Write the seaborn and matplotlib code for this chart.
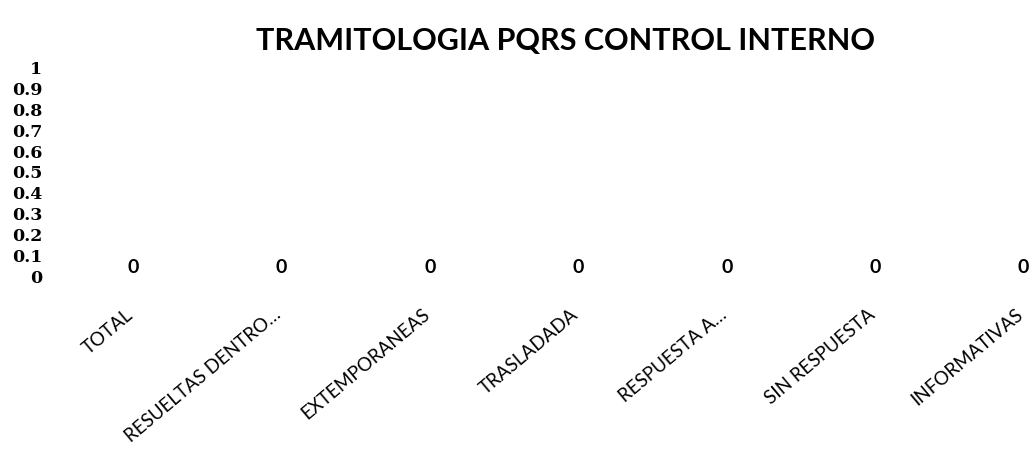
import matplotlib
matplotlib.use("Agg")
import matplotlib.pyplot as plt
import matplotlib.transforms as mtransforms
import seaborn as sns
import pandas as pd

# datos del cuadro (todos en cero)
categorias = ["TOTAL", "RESUELTAS DENTRO…", "EXTEMPORANEAS", "TRASLADADA",
              "RESPUESTA A…", "SIN RESPUESTA", "INFORMATIVAS"]
valores = [0, 0, 0, 0, 0, 0, 0]
y_ticks = [0, 0.1, 0.2, 0.3, 0.4, 0.5, 0.6, 0.7, 0.8, 0.9, 1]
titulo = "TRAMITOLOGIA PQRS CONTROL INTERNO"

df = pd.DataFrame({"categoria": categorias, "valor": valores})

sns.set_theme(style="white")
plt.rcParams['font.family'] = ['Lato', 'DejaVu Sans']
plt.rcParams['text.color'] = 'black'
plt.rcParams['xtick.color'] = 'black'
plt.rcParams['ytick.color'] = 'black'

fig = plt.figure(figsize=(10.34, 4.52), dpi=100)
ax = fig.add_axes([0.057, 0.389, 0.943, 0.461])

sns.barplot(data=df, x="categoria", y="valor", color="#4F81BD", ax=ax, width=0.6)
ax.bar_label(ax.containers[0], labels=[str(v) for v in valores], padding=0,
             fontsize=14, fontweight="bold", color="black")

ax.set_ylim(0, 1)
ax.set_xlim(-0.5, 6.07)
ax.set_yticks(y_ticks)
ax.set_yticklabels([f"{t:g}" for t in y_ticks], fontsize=12.5, fontweight="bold",
                   family=["DejaVu Serif"])
ax.tick_params(axis="y", length=0, pad=12)
ax.tick_params(axis="x", length=0, pad=26)
# desplazar un poco las etiquetas rotadas hacia la izquierda
desp = mtransforms.ScaledTranslation(-2 / 72, 0, fig.dpi_scale_trans)
for lab in ax.get_xticklabels():
    lab.set_transform(lab.get_transform() + desp)
plt.setp(ax.get_xticklabels(), rotation=40, ha="right", va="center",
         rotation_mode="anchor", fontsize=13.5)
ax.set_xlabel("")
ax.set_ylabel("")
sns.despine(ax=ax, left=True, bottom=True)

fig.text(0.547, 0.91, titulo, ha="center", va="center", fontsize=22,
         fontweight="bold", color="black")

fig.savefig("out.png", dpi=100)
